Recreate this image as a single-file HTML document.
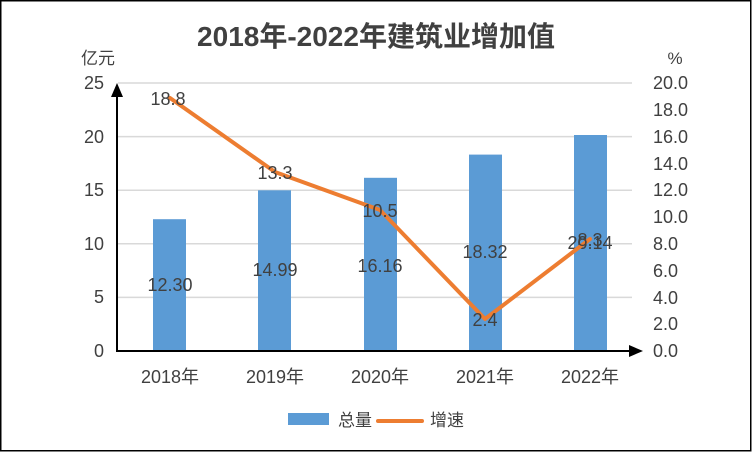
<!DOCTYPE html>
<html><head><meta charset="utf-8"><style>
html,body{margin:0;padding:0;background:#fff}
svg{display:block}
text{font-family:"Liberation Sans","Noto Sans CJK SC",sans-serif;fill:#404040}
</style></head><body>
<svg width="752" height="452" viewBox="0 0 752 452" xmlns="http://www.w3.org/2000/svg">
<rect x="0.75" y="0.75" width="750" height="450" fill="#fff" stroke="#000" stroke-width="1.5"/>
<text x="376" y="46" text-anchor="middle" font-size="28" font-weight="bold" fill="#404040">2018年-2022年建筑业增加值</text>
<text x="98" y="64" text-anchor="middle" font-size="17" fill="#595959">亿元</text>
<text x="675" y="64" text-anchor="middle" font-size="17" fill="#595959">%</text>
<g stroke="#d9d9d9" stroke-width="1.5">
<line x1="118" y1="83" x2="632" y2="83"/>
<line x1="118" y1="136.6" x2="632" y2="136.6"/>
<line x1="118" y1="190.2" x2="632" y2="190.2"/>
<line x1="118" y1="243.8" x2="632" y2="243.8"/>
<line x1="118" y1="297.4" x2="632" y2="297.4"/>
</g>
<g font-size="18" text-anchor="end" fill="#404040">
<text x="104" y="89">25</text><text x="104" y="143">20</text><text x="104" y="196">15</text>
<text x="104" y="250">10</text><text x="104" y="303">5</text><text x="104" y="357">0</text>
</g>
<g font-size="18" text-anchor="start">
<text x="653" y="89">20.0</text><text x="653" y="116">18.0</text><text x="653" y="143">16.0</text>
<text x="653" y="170">14.0</text><text x="653" y="196">12.0</text><text x="653" y="223">10.0</text>
<text x="653" y="250">8.0</text><text x="653" y="277">6.0</text><text x="653" y="304">4.0</text>
<text x="653" y="330">2.0</text><text x="653" y="357">0.0</text>
</g>
<g fill="#5b9bd5">
<rect x="153" y="219.2" width="33" height="131.8"/>
<rect x="258" y="190.3" width="33" height="160.7"/>
<rect x="364" y="177.8" width="33" height="173.2"/>
<rect x="469" y="154.6" width="33" height="196.4"/>
<rect x="574" y="135" width="33" height="216"/>
</g>
<line x1="117" y1="352" x2="117" y2="95" stroke="#000" stroke-width="2"/>
<polygon points="117,83 111,97 123,97" fill="#000"/>
<line x1="117" y1="351" x2="630" y2="351" stroke="#000" stroke-width="2"/>
<polygon points="643,351 629,345 629,357" fill="#000"/>
<g font-size="18" text-anchor="middle">
<text x="170" y="383">2018年</text><text x="275" y="383">2019年</text><text x="380" y="383">2020年</text>
<text x="485" y="383">2021年</text><text x="590" y="383">2022年</text>
</g>
<g font-size="18" text-anchor="middle">
<text x="170" y="291">12.30</text><text x="275" y="276">14.99</text><text x="380" y="272">16.16</text>
<text x="485" y="258">18.32</text><text x="590" y="249">20.14</text>
</g>
<polyline points="170,98 275,172 380,210 485,319 590,239" fill="none" stroke="#ed7d31" stroke-width="4" stroke-linejoin="round" stroke-linecap="round"/>
<g font-size="18" text-anchor="middle">
<text x="168" y="105">18.8</text><text x="275" y="179">13.3</text><text x="380" y="217">10.5</text>
<text x="485" y="326">2.4</text><text x="590" y="246">8.3</text>
</g>
<rect x="288" y="413" width="41" height="12" fill="#5b9bd5"/>
<text x="338" y="426" font-size="17" fill="#595959">总量</text>
<line x1="378" y1="421" x2="422" y2="421" stroke="#ed7d31" stroke-width="4" stroke-linecap="round"/>
<text x="430" y="426" font-size="17" fill="#595959">增速</text>
</svg>
</body></html>
